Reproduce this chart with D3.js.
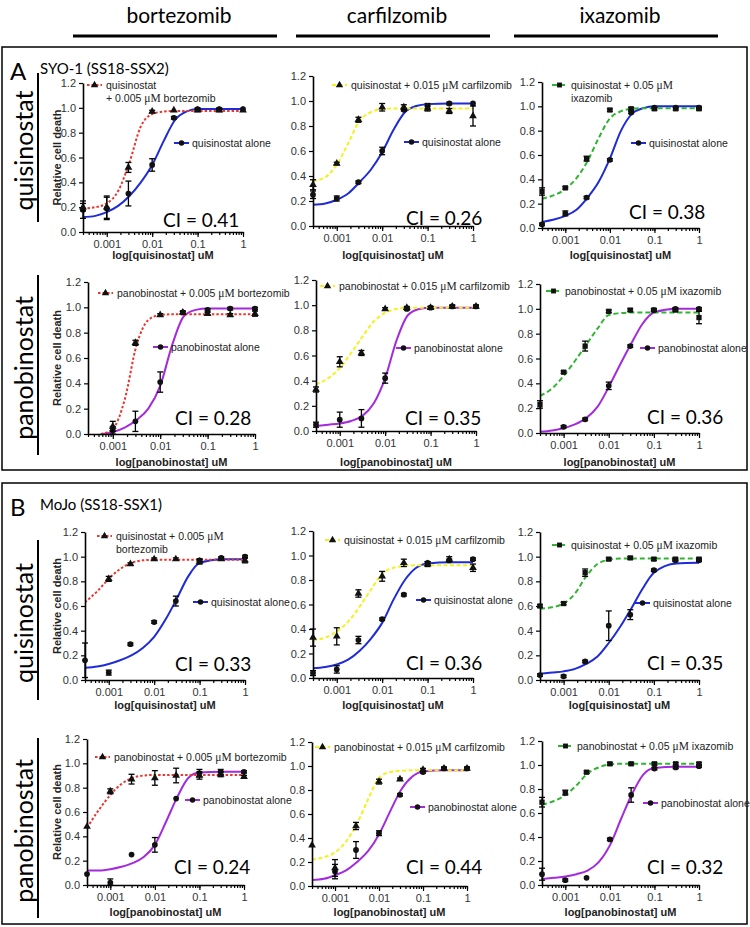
<!DOCTYPE html>
<html>
<head>
<meta charset="utf-8">
<script src="https://cdn.jsdelivr.net/npm/d3@7"></script>
<style>
  body { margin: 0; background: #fff; }
  svg { display: block; }
</style>
</head>
<body>
<svg id="fig" width="750" height="927"></svg>
<script>
// ---------- data ----------
// concentrations tested (uM)
const conc = [0.0003, 0.001, 0.003, 0.01, 0.03, 0.1, 0.3, 1];
// concentrations where the fitted curves were read
const fitConc = [0.0003, 0.00056, 0.001, 0.00178, 0.00316, 0.00562, 0.01, 0.0178, 0.0316, 0.0562, 0.1, 0.316, 1];

const hdacNames = ["quisinostat", "panobinostat"];
const piNames = ["bortezomib", "carfilzomib", "ixazomib"];
const piDoses = ["0.005", "0.015", "0.05"];
const cellLines = ["SYO-1 (SS18-SSX2)", "MoJo (SS18-SSX1)"];
const cellLetters = ["A", "B"];
const ciValues = ["0.41", "0.26", "0.38", "0.28", "0.35", "0.36",
                  "0.33", "0.36", "0.35", "0.24", "0.44", "0.32"];
const yTicks = [0, 0.2, 0.4, 0.6, 0.8, 1.0, 1.2];
const xTicks = [0.001, 0.01, 0.1, 1];

// A: SYO-1, quisinostat + bortezomib
const a1Combo = [0.20, 0.20, 0.52, 0.97, 0.98, 0.98, 0.98, 0.98];
const a1ComboErr = [0.03, 0.09, 0.04, 0.01, 0, 0.01, 0.01, 0];
const a1Alone = [0.18, 0.19, 0.31, 0.54, 0.92, 0.99, 0.99, 0.99];
const a1AloneErr = [0.07, 0.09, 0.10, 0.05, 0.01, 0.01, 0.01, 0];
const a1ComboFit = [0.19, 0.20, 0.23, 0.33, 0.56, 0.85, 0.95, 0.97, 0.975, 0.975, 0.975, 0.975, 0.975];
const a1AloneFit = [0.12, 0.13, 0.16, 0.21, 0.29, 0.40, 0.54, 0.73, 0.90, 0.97, 0.99, 0.99, 0.99];
// A: quisinostat + carfilzomib
const a2Combo = [0.33, 0.50, 0.85, 0.95, 0.95, 0.94, 0.92, 0.88];
const a2ComboErr = [0.04, 0.01, 0.02, 0.03, 0.02, 0.02, 0.02, 0.08];
const a2Alone = [0.25, 0.22, 0.35, 0.60, 0.93, 0.96, 0.98, 0.98];
const a2AloneErr = [0.03, 0.02, 0.01, 0.03, 0.01, 0.02, 0.01, 0];
const a2ComboFit = [0.36, 0.39, 0.49, 0.66, 0.84, 0.91, 0.935, 0.94, 0.94, 0.94, 0.94, 0.94, 0.94];
const a2AloneFit = [0.17, 0.18, 0.21, 0.26, 0.35, 0.45, 0.59, 0.77, 0.91, 0.96, 0.975, 0.98, 0.98];
// A: quisinostat + ixazomib
const a3Combo = [0.30, 0.33, 0.57, 0.97, 0.98, 0.98, 0.98, 0.98];
const a3ComboErr = [0.03, 0.01, 0.02, 0.01, 0.01, 0.01, 0.01, 0.01];
const a3Alone = [0.03, 0.12, 0.25, 0.56, 0.95, 0.99, 0.99, 0.99];
const a3AloneErr = [0.01, 0.02, 0.01, 0.01, 0.01, 0, 0, 0.01];
const a3ComboFit = [0.24, 0.27, 0.32, 0.41, 0.55, 0.74, 0.90, 0.96, 0.98, 0.985, 0.985, 0.985, 0.985];
const a3AloneFit = [0.05, 0.07, 0.10, 0.15, 0.25, 0.38, 0.57, 0.80, 0.94, 0.985, 1.0, 1.0, 1.0];
// A: panobinostat + bortezomib
const a4Combo = [null, 0.06, 0.72, 0.94, 0.96, 0.95, 0.94, 0.95];
const a4ComboErr = [0, 0.04, 0.02, 0.01, 0.01, 0.01, 0.01, 0.02];
const a4Alone = [null, 0.03, 0.10, 0.41, 0.96, 0.98, 0.99, 0.99];
const a4AloneErr = [0, 0.03, 0.08, 0.08, 0.01, 0.01, 0.01, 0.01];
const a4ComboFit = [null, 0, 0.04, 0.27, 0.70, 0.90, 0.94, 0.945, 0.945, 0.945, 0.945, 0.945, 0.945];
const a4AloneFit = [null, 0, 0.015, 0.05, 0.11, 0.20, 0.38, 0.70, 0.93, 0.98, 0.99, 0.99, 0.99];
// A: panobinostat + carfilzomib
const a5Combo = [0.33, 0.55, 0.62, 0.97, 0.98, 0.98, 0.99, 0.99];
const a5ComboErr = [0.02, 0.04, 0.02, 0.01, 0.01, 0.01, 0.01, 0.01];
const a5Alone = [0.05, 0.09, 0.10, 0.42, 0.97, 0.98, 0.99, 0.99];
const a5AloneErr = [0.02, 0.06, 0.07, 0.04, 0.01, 0.01, 0.01, 0.01];
const a5ComboFit = [0.37, 0.42, 0.50, 0.62, 0.75, 0.87, 0.94, 0.97, 0.98, 0.98, 0.98, 0.98, 0.98];
const a5AloneFit = [0.04, 0.05, 0.06, 0.08, 0.12, 0.22, 0.42, 0.72, 0.92, 0.97, 0.98, 0.98, 0.98];
// A: panobinostat + ixazomib
const a6Combo = [0.23, 0.49, 0.70, 0.98, 0.99, 0.99, 0.99, 0.93];
const a6ComboErr = [0.03, 0.01, 0.04, 0.01, 0.01, 0.01, 0.01, 0.05];
const a6Alone = [null, 0.05, 0.11, 0.38, 0.70, 0.99, 1.0, 1.0];
const a6AloneErr = [0, 0.01, 0.01, 0.03, 0.01, 0.01, 0.01, 0.01];
const a6ComboFit = [0.30, 0.36, 0.46, 0.58, 0.71, 0.84, 0.95, 0.965, 0.97, 0.97, 0.97, 0.97, 0.97];
const a6AloneFit = [0.01, 0.02, 0.04, 0.07, 0.12, 0.21, 0.37, 0.55, 0.72, 0.88, 0.97, 1.0, 1.0];
// B: MoJo, quisinostat + bortezomib
const b1Combo = [null, 0.82, 0.94, 0.98, 0.98, 0.96, 0.98, 0.97];
const b1ComboErr = [0, 0.02, 0.01, 0.01, 0.01, 0.02, 0.01, 0.02];
const b1Alone = [0.16, 0.06, 0.29, 0.47, 0.64, 0.97, 0.99, 1.00];
const b1AloneErr = [0.14, 0.02, 0.01, 0.01, 0.04, 0.01, 0.01, 0.01];
const b1ComboFit = [0.63, 0.72, 0.82, 0.90, 0.95, 0.97, 0.975, 0.975, 0.975, 0.975, 0.975, 0.975, 0.975];
const b1AloneFit = [0.10, 0.11, 0.13, 0.16, 0.20, 0.26, 0.35, 0.49, 0.66, 0.84, 0.95, 0.98, 0.98];
// B: quisinostat + carfilzomib
const b2Combo = [0.33, 0.34, 0.69, 0.83, 0.94, 0.93, 0.97, 0.90];
const b2ComboErr = [0.07, 0.07, 0.03, 0.04, 0.03, 0.02, 0.02, 0.03];
const b2Alone = [0.04, 0.07, 0.31, 0.48, 0.68, 0.94, 0.96, 0.97];
const b2AloneErr = [0.02, 0.03, 0.03, 0.01, 0.01, 0.01, 0.01, 0.01];
const b2ComboFit = [0.31, 0.33, 0.38, 0.46, 0.58, 0.72, 0.85, 0.90, 0.915, 0.92, 0.92, 0.92, 0.92];
const b2AloneFit = [0.08, 0.09, 0.11, 0.15, 0.22, 0.32, 0.45, 0.64, 0.80, 0.90, 0.935, 0.945, 0.945];
// B: quisinostat + ixazomib
const b3Combo = [0.60, 0.62, 0.87, 0.98, 0.99, 0.98, 0.98, 0.98];
const b3ComboErr = [0.01, 0.01, 0.03, 0.01, 0.01, 0.01, 0.01, 0.01];
const b3Alone = [0.04, 0.03, 0.15, 0.44, 0.53, 0.89, 0.97, 0.97];
const b3AloneErr = [0.01, 0.01, 0.01, 0.12, 0.04, 0.01, 0.01, 0.01];
const b3ComboFit = [0.58, 0.59, 0.62, 0.70, 0.84, 0.94, 0.975, 0.985, 0.985, 0.985, 0.985, 0.985, 0.985];
const b3AloneFit = [0.05, 0.06, 0.07, 0.09, 0.13, 0.19, 0.30, 0.43, 0.58, 0.74, 0.87, 0.945, 0.95];
// B: panobinostat + bortezomib
const b4Combo = [0.48, 0.77, 0.87, 0.88, 0.90, 0.90, 0.91, 0.89];
const b4ComboErr = [0, 0.02, 0.04, 0.06, 0.06, 0.03, 0.02, 0.01];
const b4Alone = [0.09, 0.02, 0.25, 0.33, 0.71, 0.92, 0.93, 0.93];
const b4AloneErr = [0, 0.03, 0, 0.06, 0, 0.03, 0.02, 0.01];
const b4ComboFit = [0.47, 0.62, 0.74, 0.83, 0.88, 0.90, 0.905, 0.905, 0.905, 0.905, 0.905, 0.905, 0.905];
const b4AloneFit = [0.12, 0.12, 0.13, 0.15, 0.18, 0.23, 0.33, 0.52, 0.72, 0.88, 0.925, 0.93, 0.93];
// B: panobinostat + carfilzomib
const b5Combo = [0.34, 0.15, 0.50, 0.87, 0.89, 0.97, 0.98, 0.98];
const b5ComboErr = [0, 0.07, 0.03, 0.02, 0.01, 0.01, 0.01, 0.01];
const b5Alone = [null, 0.12, 0.30, 0.44, 0.76, 0.95, 0.98, 0.98];
const b5AloneErr = [0, 0.06, 0.07, 0.02, 0.01, 0.01, 0.01, 0.01];
const b5ComboFit = [0.22, 0.24, 0.28, 0.37, 0.52, 0.72, 0.90, 0.95, 0.96, 0.965, 0.965, 0.965, 0.965];
const b5AloneFit = [0.05, 0.06, 0.09, 0.13, 0.20, 0.29, 0.43, 0.62, 0.80, 0.91, 0.955, 0.965, 0.965];
// B: panobinostat + ixazomib
const b6Combo = [0.69, 0.77, 0.94, 1.01, 1.01, 1.01, 1.01, 1.01];
const b6ComboErr = [0.04, 0.02, 0.01, 0.01, 0.01, 0.01, 0.01, 0.01];
const b6Alone = [0.09, 0.04, 0.06, 0.38, 0.75, 0.97, 0.98, 0.99];
const b6AloneErr = [0.05, 0.01, 0, 0.01, 0.06, 0.01, 0.01, 0.01];
const b6ComboFit = [0.67, 0.70, 0.75, 0.83, 0.93, 0.98, 1.005, 1.01, 1.01, 1.01, 1.01, 1.01, 1.01];
const b6AloneFit = [0.05, 0.06, 0.07, 0.09, 0.12, 0.19, 0.33, 0.55, 0.76, 0.92, 0.975, 0.985, 0.985];

const panels = [
  [a1Combo, a1ComboErr, a1Alone, a1AloneErr, a1ComboFit, a1AloneFit],
  [a2Combo, a2ComboErr, a2Alone, a2AloneErr, a2ComboFit, a2AloneFit],
  [a3Combo, a3ComboErr, a3Alone, a3AloneErr, a3ComboFit, a3AloneFit],
  [a4Combo, a4ComboErr, a4Alone, a4AloneErr, a4ComboFit, a4AloneFit],
  [a5Combo, a5ComboErr, a5Alone, a5AloneErr, a5ComboFit, a5AloneFit],
  [a6Combo, a6ComboErr, a6Alone, a6AloneErr, a6ComboFit, a6AloneFit],
  [b1Combo, b1ComboErr, b1Alone, b1AloneErr, b1ComboFit, b1AloneFit],
  [b2Combo, b2ComboErr, b2Alone, b2AloneErr, b2ComboFit, b2AloneFit],
  [b3Combo, b3ComboErr, b3Alone, b3AloneErr, b3ComboFit, b3AloneFit],
  [b4Combo, b4ComboErr, b4Alone, b4AloneErr, b4ComboFit, b4AloneFit],
  [b5Combo, b5ComboErr, b5Alone, b5AloneErr, b5ComboFit, b5AloneFit],
  [b6Combo, b6ComboErr, b6Alone, b6AloneErr, b6ComboFit, b6AloneFit]
];

// ---------- layout (pixels) ----------
// x0, x1, yTop, yBottom, combo legend x/y, alone legend x/y, CI x/y, legend wrap
const layout = [
  {x0: 83, x1: 243, yt: 83, yb: 232, cx: 87, cy: 85, ax: 174, ay: 143, ix: 163, iy: 227, wrap: 1},
  {x0: 313, x1: 473, yt: 76, yb: 226, cx: 332, cy: 85, ax: 404, ay: 142, ix: 406, iy: 225, wrap: 0},
  {x0: 542, x1: 699, yt: 82, yb: 228, cx: 552, cy: 85, ax: 631, ay: 143, ix: 629, iy: 219, wrap: 2},
  {x0: 88, x1: 255, yt: 282, yb: 434, cx: 98, cy: 293, ax: 153, ay: 347, ix: 175, iy: 425, wrap: 0},
  {x0: 316, x1: 476, yt: 280, yb: 431, cx: 320, cy: 286, ax: 396, ay: 348, ix: 405, iy: 425, wrap: 0},
  {x0: 540, x1: 699, yt: 284, yb: 433, cx: 546, cy: 291, ax: 640, ay: 348, ix: 647, iy: 424, wrap: 0},
  {x0: 85, x1: 245, yt: 532, yb: 680, cx: 97, cy: 536, ax: 193, ay: 602, ix: 175, iy: 671, wrap: 2},
  {x0: 313, x1: 473, yt: 531, yb: 678, cx: 325, cy: 540, ax: 416, ay: 600, ix: 406, iy: 670, wrap: 0},
  {x0: 540, x1: 699, yt: 532, yb: 680, cx: 552, cy: 545, ax: 635, ay: 603, ix: 647, iy: 670, wrap: 0},
  {x0: 87, x1: 244, yt: 739, yb: 885, cx: 95, cy: 757, ax: 185, ay: 800, ix: 174, iy: 874, wrap: 0},
  {x0: 312, x1: 467, yt: 742, yb: 886, cx: 315, cy: 747, ax: 410, ay: 807, ix: 406, iy: 874, wrap: 0},
  {x0: 542, x1: 699, yt: 741, yb: 885, cx: 558, cy: 746, ax: 643, ay: 803, ix: 647, iy: 874, wrap: 0}
];
const xLabelY = [259, 466, 709, 916];
const rowBars = [[73, 222], [275, 455], [540, 700], [738, 918]];

const piColors = ["#e8372f", "#f2f21c", "#2fb52f"];
const piDash = ["2.5,2", "4,2.5", "5,3"];
const hdacColors = ["#1f2bd6", "#a42bdc"];

const sans = "'Liberation Sans', Arial, sans-serif";
const cal = "Lato, 'Open Sans', sans-serif";

const svg = d3.select("#fig");

// ---------- headers and frames ----------
const headerLines = [[73, 277], [296, 490], [514, 718]];
piNames.forEach((name, i) => {
  const [a, b] = headerLines[i];
  svg.append("text")
    .attr("x", (a + b) / 2 + 4).attr("y", 23)
    .attr("text-anchor", "middle")
    .style("font-family", cal).style("font-size", "21px")
    .text(name);
  svg.append("line")
    .attr("x1", a).attr("x2", b).attr("y1", 36).attr("y2", 36)
    .attr("stroke", "#000").attr("stroke-width", 3);
});

const frames = [[47, 470], [483, 924]];
frames.forEach(([t, b], i) => {
  svg.append("rect")
    .attr("x", 2).attr("y", t).attr("width", 745).attr("height", b - t)
    .attr("fill", "none").attr("stroke", "#000").attr("stroke-width", 1.5);
  svg.append("text")
    .attr("x", 10).attr("y", t + 33)
    .style("font-family", cal).style("font-size", "24px")
    .text(cellLetters[i]);
  svg.append("text")
    .attr("x", 40).attr("y", t + 27)
    .style("font-family", cal).style("font-size", "15px")
    .text(cellLines[i]);
});

// big row labels with a bar on the right
rowBars.forEach(([t, b], r) => {
  svg.append("line")
    .attr("x1", 38).attr("x2", 38).attr("y1", t).attr("y2", b)
    .attr("stroke", "#000").attr("stroke-width", 2);
  svg.append("text")
    .attr("transform", `translate(33,${(t + b) / 2 + 3}) rotate(-90)`)
    .attr("text-anchor", "middle")
    .style("font-family", cal).style("font-size", "25px")
    .text(hdacNames[r % 2]);
});

// ---------- panels ----------
const xMinor = d3.scaleLog().domain([0.0003, 1]).ticks();

layout.forEach((L, i) => {
  const row = Math.floor(i / 3), col = i % 3;
  const hdac = row % 2, pi = col;
  const [combo, comboErr, alone, aloneErr, comboFit, aloneFit] = panels[i];
  const g = svg.append("g");

  const x = d3.scaleLog().domain([0.0003, 1]).range([L.x0, L.x1]);
  const y = d3.scaleLinear().domain([0, 1.2]).range([L.yb, L.yt]);

  // curves, clipped to the plot box
  const clipId = "clip" + i;
  svg.append("clipPath").attr("id", clipId).append("rect")
    .attr("x", L.x0).attr("y", L.yt - 10)
    .attr("width", L.x1 - L.x0 + 6).attr("height", L.yb - L.yt + 10);

  const line = d3.line()
    .defined(d => d[1] != null)
    .x(d => x(d[0])).y(d => y(d[1]))
    .curve(d3.curveMonotoneX);

  const curves = g.append("g").attr("clip-path", `url(#${clipId})`);
  curves.append("path")
    .datum(fitConc.map((c, k) => [c, aloneFit[k]]))
    .attr("d", line).attr("fill", "none")
    .attr("stroke", hdacColors[hdac]).attr("stroke-width", 2);
  curves.append("path")
    .datum(fitConc.map((c, k) => [c, comboFit[k]]))
    .attr("d", line).attr("fill", "none")
    .attr("stroke", piColors[pi]).attr("stroke-width", 2)
    .attr("stroke-dasharray", piDash[pi]);

  // axes
  g.append("g")
    .attr("transform", `translate(0,${L.yb})`)
    .call(d3.axisBottom(x).tickValues(xMinor).tickSize(3).tickFormat("").tickSizeOuter(0))
    .call(a => a.select(".domain").remove());
  const xa = g.append("g")
    .attr("transform", `translate(0,${L.yb})`)
    .call(d3.axisBottom(x).tickValues(xTicks).tickSize(5).tickSizeOuter(0)
      .tickFormat(d => String(d)));
  const ya = g.append("g")
    .attr("transform", `translate(${L.x0},0)`)
    .call(d3.axisLeft(y).tickValues(yTicks).tickSize(4).tickSizeOuter(0)
      .tickFormat(d3.format(".1f")));
  g.selectAll(".tick line").attr("stroke", "#000").attr("stroke-width", 1.2);
  [xa, ya].forEach(a => {
    a.select(".domain").attr("stroke", "#000").attr("stroke-width", 1.6);
    a.selectAll("text").style("font-family", sans).style("font-size", "11px").attr("fill", "#333");
  });

  g.append("text")
    .attr("x", (L.x0 + L.x1) / 2).attr("y", xLabelY[row])
    .attr("text-anchor", "middle")
    .style("font-family", sans).style("font-size", "11px").style("font-weight", "bold")
    .attr("fill", "#222")
    .text(`log[${hdacNames[hdac]}] uM`);

  if (col === 0) {
    g.append("text")
      .attr("transform", `translate(61,${(L.yt + L.yb) / 2}) rotate(-90)`)
      .attr("text-anchor", "middle")
      .style("font-family", sans).style("font-size", "11px").style("font-weight", "bold")
      .attr("fill", "#222")
      .text("Relative cell death");
  }

  // error bars and markers
  const comboSym = pi === 2 ? d3.symbolSquare : d3.symbolTriangle;
  const series = [
    {v: alone, e: aloneErr, sym: d3.symbolCircle, size: 26},
    {v: combo, e: comboErr, sym: comboSym, size: pi === 2 ? 28 : 26}
  ];
  series.forEach(s => {
    const pts = conc.map((c, k) => ({c, v: s.v[k], e: s.e[k]})).filter(d => d.v != null);
    const eb = g.append("g").attr("stroke", "#000").attr("stroke-width", 1.3);
    pts.filter(d => d.e > 0).forEach(d => {
      const xx = x(d.c), lo = y(Math.max(0, d.v - d.e)), hi = y(d.v + d.e);
      eb.append("line").attr("x1", xx).attr("x2", xx).attr("y1", lo).attr("y2", hi);
      eb.append("line").attr("x1", xx - 3).attr("x2", xx + 3).attr("y1", hi).attr("y2", hi);
      eb.append("line").attr("x1", xx - 3).attr("x2", xx + 3).attr("y1", lo).attr("y2", lo);
    });
    g.append("g").selectAll("path").data(pts).join("path")
      .attr("transform", d => `translate(${x(d.c)},${y(d.v)})`)
      .attr("d", d3.symbol(s.sym, s.size))
      .attr("fill", "#111");
  });

  // legends
  const leg = g.append("g").style("font-family", sans).style("font-size", "10.5px").attr("fill", "#222");
  leg.append("line")
    .attr("x1", L.cx).attr("x2", L.cx + 15).attr("y1", L.cy).attr("y2", L.cy)
    .attr("stroke", piColors[pi]).attr("stroke-width", 2).attr("stroke-dasharray", piDash[pi]);
  leg.append("path")
    .attr("transform", `translate(${L.cx + 7.5},${L.cy})`)
    .attr("d", d3.symbol(comboSym, 24)).attr("fill", "#111");
  const head = hdacNames[hdac];
  const lines = L.wrap === 1 ? [[head], ["+ ", piDoses[pi], ` ${piNames[pi]}`]]
              : L.wrap === 2 ? [[`${head} + `, piDoses[pi], ""], [piNames[pi]]]
              : [[`${head} + `, piDoses[pi], ` ${piNames[pi]}`]];
  lines.forEach((parts, k) => {
    const t = leg.append("text").attr("x", L.cx + 19).attr("y", L.cy + 4 + k * 12.5);
    if (parts.length === 1) { t.text(parts[0]); return; }
    t.append("tspan").text(parts[0] + parts[1] + " ");
    t.append("tspan").style("font-family", "'Liberation Serif', 'DejaVu Serif', serif").style("font-size", "11.5px").text("\u03bcM");
    t.append("tspan").text(parts[2]);
  });

  leg.append("line")
    .attr("x1", L.ax).attr("x2", L.ax + 15).attr("y1", L.ay).attr("y2", L.ay)
    .attr("stroke", hdacColors[hdac]).attr("stroke-width", 2);
  leg.append("path")
    .attr("transform", `translate(${L.ax + 7.5},${L.ay})`)
    .attr("d", d3.symbol(d3.symbolCircle, 24)).attr("fill", "#111");
  leg.append("text").attr("x", L.ax + 18).attr("y", L.ay + 4)
    .text(`${head} alone`);

  // combination index
  g.append("text")
    .attr("x", L.ix).attr("y", L.iy)
    .style("font-family", cal).style("font-size", "19px")
    .text(`CI = ${ciValues[i]}`);
});
</script>
</body>
</html>
